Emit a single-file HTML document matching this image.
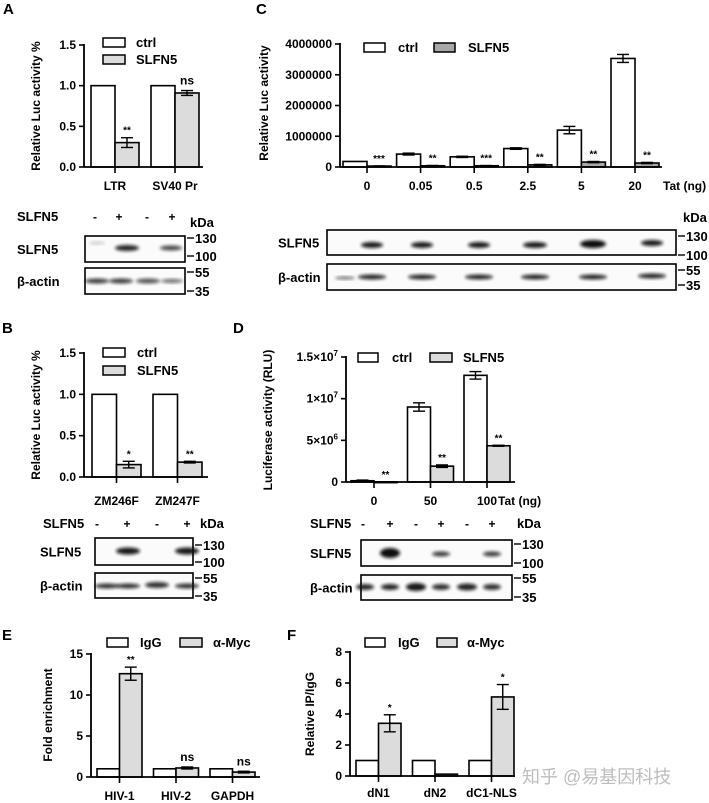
<!DOCTYPE html>
<html><head><meta charset="utf-8"><style>
html,body{margin:0;padding:0;background:#fff}
svg{display:block;font-family:"Liberation Sans",Arial,"Noto Sans CJK SC",sans-serif;font-weight:bold}
</style></head><body>
<svg id="fig" width="709" height="803" viewBox="0 0 709 803" xmlns="http://www.w3.org/2000/svg">
<defs>
<filter id="blur" x="-20%" y="-50%" width="140%" height="200%"><feGaussianBlur stdDeviation="1.6"/></filter>
</defs>
<g id="root"></g>
</svg>
<script>
// Panel A
const aCats=["LTR","SV40 Pr"];
const aCtrl=[1.0,1.0];
const aTrt=[0.3,0.91];
const aCtrlErr=[0,0];
const aTrtErr=[0.06,0.03];
const aStars=["**","ns"];
const aTicks=[0,0.5,1.0,1.5];
const aTickLabels=["0.0","0.5","1.0","1.5"];
// Panel B
const bCats=["ZM246F","ZM247F"];
const bCtrl=[1.0,1.0];
const bTrt=[0.15,0.18];
const bCtrlErr=[0,0];
const bTrtErr=[0.04,0.01];
const bStars=["*","**"];
const bTicks=[0,0.5,1.0,1.5];
const bTickLabels=["0.0","0.5","1.0","1.5"];
// Panel C
const cCats=["0","0.05","0.5","2.5","5","20"];
const cCtrl=[180000,420000,330000,600000,1200000,3530000];
const cTrt=[30000,40000,40000,70000,160000,130000];
const cCtrlErr=[0,30000,20000,25000,120000,130000];
const cTrtErr=[5000,10000,8000,15000,20000,20000];
const cStars=["***","**","***","**","**","**"];
const cTicks=[0,1000000,2000000,3000000,4000000];
const cTickLabels=["0","1000000","2000000","3000000","4000000"];
// Panel D
const dCats=["0","50","100"];
const dCtrl=[150000,9000000,12800000];
const dTrt=[20000,1900000,4350000];
const dCtrlErr=[80000,500000,450000];
const dTrtErr=[0,150000,60000];
const dStars=["**","**","**"];
const dTicks=[0,5000000,10000000,15000000];
const dTickLabels=[["0",""],["5×10","6"],["1×10","7"],["1.5×10","7"]];
// Panel E
const eCats=["HIV-1","HIV-2","GAPDH"];
const eCtrl=[1,1,1];
const eTrt=[12.6,1.1,0.6];
const eCtrlErr=[0,0,0];
const eTrtErr=[0.8,0.12,0.1];
const eStars=["**","ns","ns"];
const eTicks=[0,5,10,15];
const eTickLabels=["0","5","10","15"];
// Panel F
const fCats=["dN1","dN2","dC1-NLS"];
const fCtrl=[1,1,1];
const fTrt=[3.4,0.12,5.1];
const fCtrlErr=[0,0,0];
const fTrtErr=[0.55,0,0.8];
const fStars=["*","","*"];
const fTicks=[0,2,4,6,8];
const fTickLabels=["0","2","4","6","8"];

const NS="http://www.w3.org/2000/svg";
const root=document.getElementById('root');
function el(tag,attrs,parent,text){const e=document.createElementNS(NS,tag);for(const k in attrs)e.setAttribute(k,attrs[k]);if(text!==undefined)e.textContent=text;(parent||root).appendChild(e);return e;}

function chart(o){
  const g=el('g',{});
  
  
  const yMax=o.ticks[o.ticks.length-1];
  const Y=v=>o.y0-(v/yMax)*(o.y0-o.yTop);
  const X=(i,k)=>o.gx+i*o.step+k*o.bw;
  o.cats.forEach((c,i)=>{
    [[o.ctrl,o.ctrlErr,'#fff',0],[o.trt,o.trtErr,o.gray,1]].forEach(([vals,errs,fill,k])=>{
      const v=vals[i];const x=X(i,k);const top=Y(v);
      const r=el('rect',{x:x,y:top,width:o.bw,height:Math.max(o.y0-top,0.8),fill:fill,stroke:'#000','stroke-width':1.6},g);
      
      
      const e=errs[i];
      if(e>0){const cx=x+o.bw/2;
        el('line',{x1:cx,x2:cx,y1:Y(v+e),y2:Y(v-e),stroke:'#000','stroke-width':1.4},g);
        el('line',{x1:cx-6,x2:cx+6,y1:Y(v+e),y2:Y(v+e),stroke:'#000','stroke-width':1.4},g);
        el('line',{x1:cx-6,x2:cx+6,y1:Y(v-e),y2:Y(v-e),stroke:'#000','stroke-width':1.4},g);}
    });
    const s=o.stars[i];
    if(s){const cx=X(i,1)+o.bw/2;const top=Y(o.trt[i]+o.trtErr[i]);
      const isNs=s==='ns';
      const t=el('text',{x:cx,y:top-(isNs?6:4),'text-anchor':'middle','font-size':isNs?12:10},g,s);
      
      }
    const tx=X(i,1);
    el('line',{x1:tx,x2:tx,y1:o.y0,y2:o.y0+6,stroke:'#000','stroke-width':1.6},g);
    const cl=el('text',{x:tx,y:o.labY,'text-anchor':'middle','font-size':o.fs},g,c);
    
    
  });
  el('line',{x1:o.ax,x2:o.ax,y1:o.yTop-1,y2:o.y0,stroke:'#000','stroke-width':1.8},g);
  el('line',{x1:o.ax,x2:o.axEnd,y1:o.y0,y2:o.y0,stroke:'#000','stroke-width':1.8},g);
  o.ticks.forEach((t,i)=>{
    el('line',{x1:o.ax-5,x2:o.ax,y1:Y(t),y2:Y(t),stroke:'#000','stroke-width':1.6},g);
    const lab=o.tickLabels[i];
    const tt=el('text',{x:o.ax-8,y:Y(t)+4,'text-anchor':'end','font-size':o.fs},g);
    if(Array.isArray(lab)){tt.textContent=lab[0];if(lab[1]){el('tspan',{dy:-5,'font-size':8},tt,lab[1]);}}
    else tt.textContent=lab;
    
    
  });
  const yl=el('text',{x:o.ylX,y:o.ylY,'text-anchor':'middle','font-size':o.ylfs||12,transform:`rotate(-90 ${o.ylX} ${o.ylY})`},g,o.ylabel);
  
  
  o.legend.forEach(L=>{
    el('rect',{x:L.x,y:L.y,width:L.w,height:9,fill:L.fill,stroke:'#000','stroke-width':1.5},g);
    const lt=el('text',{x:L.tx,y:L.y+9,'font-size':13},g,L.label);
    
    
  });
  if(o.extra){const t=el('text',{x:o.extra.x,y:o.extra.y,'font-size':o.fs},g,o.extra.t);
    
    }
}

function blot(o){
  const g=el('g',{});
  
  
  if(o.signs){o.signs.forEach((s,i)=>el('text',{x:o.signX[i],y:o.rowY,'text-anchor':'middle','font-size':12},g,s));
    el('text',{x:o.rowLabX,y:o.rowY,'font-size':13},g,'SLFN5');}
  el('text',{x:o.kdaX,y:o.kdaY,'font-size':13},g,'kDa');
  o.boxes.forEach(b=>{
    el('rect',{x:o.x1,y:b.y1,width:o.x2-o.x1,height:b.y2-b.y1,fill:'#fbfbfb',stroke:'#000','stroke-width':1.6},g);
    b.bands.forEach(bd=>{el('ellipse',{cx:bd[0],cy:bd[1],rx:bd[2],ry:bd[3],fill:'#111',opacity:bd[4],filter:'url(#blur)'},g);});
    el('text',{x:o.labX,y:(b.y1+b.y2)/2+5,'font-size':13},g,b.label);
    b.kd.forEach(k=>{el('line',{x1:o.x2+2,x2:o.x2+9,y1:k[1],y2:k[1],stroke:'#000','stroke-width':1.4},g);
      el('text',{x:o.x2+10,y:k[1]+5,'font-size':13},g,k[0]);});
  });
}

[["A",3,14],["C",256,14],["B",2,333],["D",233,333],["E",2,640],["F",287,640]].forEach(p=>{
  const t=el('text',{x:p[1],y:p[2],'font-size':15},root,p[0]);
  
  
});

chart({name:'chart-a',cats:aCats,ctrl:aCtrl,trt:aTrt,ctrlErr:aCtrlErr,trtErr:aTrtErr,stars:aStars,ticks:aTicks,tickLabels:aTickLabels,
  ax:84,axEnd:203,y0:167,yTop:45,gx:91,step:60,bw:24,gray:'#dcdcdc',labY:190,fs:12,ylabel:'Relative Luc activity %',ylX:40,ylY:106,
  legend:[{x:103,y:38,w:22,fill:'#fff',label:'ctrl',tx:136},{x:103,y:55,w:22,fill:'#dcdcdc',label:'SLFN5',tx:136}]});
chart({name:'chart-b',cats:bCats,ctrl:bCtrl,trt:bTrt,ctrlErr:bCtrlErr,trtErr:bTrtErr,stars:bStars,ticks:bTicks,tickLabels:bTickLabels,
  ax:84,axEnd:208,y0:477,yTop:353,gx:92,step:61,bw:24.5,gray:'#dcdcdc',labY:505,fs:12,ylabel:'Relative Luc activity %',ylX:40,ylY:415,
  legend:[{x:103,y:348,w:22,fill:'#fff',label:'ctrl',tx:137},{x:103,y:366,w:22,fill:'#dcdcdc',label:'SLFN5',tx:137}]});
chart({name:'chart-c',cats:cCats,ctrl:cCtrl,trt:cTrt,ctrlErr:cCtrlErr,trtErr:cTrtErr,stars:cStars,ticks:cTicks,tickLabels:cTickLabels,
  ax:340,axEnd:662,y0:167,yTop:44,gx:343,step:53.6,bw:24,gray:'#a8a8a8',labY:190,fs:12,ylabel:'Relative Luc activity',ylX:268,ylY:103,
  legend:[{x:364,y:43,w:21,fill:'#fff',label:'ctrl',tx:398},{x:434,y:43,w:21,fill:'#a8a8a8',label:'SLFN5',tx:468}],
  extra:{x:663,y:190,t:'Tat (ng)'}});
chart({name:'chart-d',cats:dCats,ctrl:dCtrl,trt:dTrt,ctrlErr:dCtrlErr,trtErr:dTrtErr,stars:dStars,ticks:dTicks,tickLabels:dTickLabels,
  ax:346,axEnd:515,y0:482,yTop:357,gx:351,step:56.5,bw:23,gray:'#dcdcdc',labY:505,fs:12,ylabel:'Luciferase activity (RLU)',ylX:272,ylY:420,
  legend:[{x:358,y:353,w:20,fill:'#fff',label:'ctrl',tx:392},{x:430,y:353,w:22,fill:'#dcdcdc',label:'SLFN5',tx:463}],
  extra:{x:498,y:505,t:'Tat (ng)'}});
chart({name:'chart-e',cats:eCats,ctrl:eCtrl,trt:eTrt,ctrlErr:eCtrlErr,trtErr:eTrtErr,stars:eStars,ticks:eTicks,tickLabels:eTickLabels,
  ax:91,axEnd:260,y0:777,yTop:654,gx:97,step:56.5,bw:22.5,gray:'#dcdcdc',labY:800,fs:12,ylabel:'Fold enrichment',ylX:52,ylY:715,
  legend:[{x:107,y:638,w:21,fill:'#fff',label:'IgG',tx:140},{x:180,y:638,w:22,fill:'#dcdcdc',label:'α-Myc',tx:213}]});
chart({name:'chart-f',cats:fCats,ctrl:fCtrl,trt:fTrt,ctrlErr:fCtrlErr,trtErr:fTrtErr,stars:fStars,ticks:fTicks,tickLabels:fTickLabels,
  ax:350,axEnd:515,y0:776,yTop:652,gx:356,step:56.5,bw:22.5,gray:'#dcdcdc',labY:797,fs:12,ylabel:'Relative IP/IgG',ylX:314,ylY:714,
  legend:[{x:365,y:638,w:20,fill:'#fff',label:'IgG',tx:398},{x:437,y:638,w:20,fill:'#dcdcdc',label:'α-Myc',tx:467}]});

blot({name:'blot-a',signs:['-','+','-','+'],signX:[95,119,147,172],rowY:221,rowLabX:17,kdaX:190,kdaY:227,x1:85,x2:185,labX:17,
  boxes:[{label:'SLFN5',y1:236,y2:262,kd:[['130',238],['100',256]],bands:[[127,248,12,3,0.9],[171,248,11,2.5,0.75],[97,243,8,1.5,0.2]]},
         {label:'β-actin',y1:268,y2:294,kd:[['55',272],['35',291]],bands:[[97,281,12,2.5,0.8],[121,281,12,2.5,0.8],[148,281,12,2.5,0.7],[172,281,11,2,0.6]]}]});
blot({name:'blot-b',signs:['-','+','-','+'],signX:[97,127,157,187],rowY:528,rowLabX:43,kdaX:200,kdaY:528,x1:95,x2:193,labX:40,
  boxes:[{label:'SLFN5',y1:538,y2:565,kd:[['130',545],['100',562]],bands:[[128,551,12,3.5,0.95],[187,551,12,3.5,0.95]]},
         {label:'β-actin',y1:573,y2:598,kd:[['55',578],['35',596]],bands:[[107,586,12,2.5,0.85],[128,586,12,2.5,0.85],[157,585,12,3,0.85],[187,586,12,2.5,0.85]]}]});
blot({name:'blot-c',rowY:0,kdaX:683,kdaY:222,x1:327,x2:676,labX:278,
  boxes:[{label:'SLFN5',y1:230,y2:255,kd:[['130',236],['100',255]],bands:[[372,245,11,3,0.95],[422,245,11,3,0.95],[479,245,11,3,0.95],[535,245,12,3,0.95],[593,244,13,4,1],[652,243,11,3,0.95]]},
         {label:'β-actin',y1:264,y2:290,kd:[['55',270],['35',285]],bands:[[345,278,10,1.5,0.6],[372,277,14,2.5,0.9],[422,277,14,2.5,0.9],[479,277,14,2.5,0.9],[535,277,14,2.5,0.9],[593,277,14,2.5,0.9],[652,276,14,2.5,0.9]]}]});
blot({name:'blot-d',signs:['-','+','-','+','-','+'],signX:[363,390,416,441,467,492],rowY:528,rowLabX:310,kdaX:517,kdaY:528,x1:361,x2:512,labX:310,
  boxes:[{label:'SLFN5',y1:540,y2:566,kd:[['130',544],['100',563]],bands:[[390,553,10,5,1],[441,554,9,2.5,0.8],[492,554,9,2.5,0.8]]},
         {label:'β-actin',y1:575,y2:600,kd:[['55',578],['35',597]],bands:[[365,587,9,3,0.9],[390,587,9,3,0.9],[416,587,10,4,0.95],[441,587,9,3,0.85],[467,587,10,3.5,0.9],[492,587,9,3,0.85]]}]});

const wm=el('text',{x:522,y:783,'font-size':18,fill:'#bdbdbd','font-weight':'normal'},root,'知乎 @易基因科技');


</script>
</body></html>
